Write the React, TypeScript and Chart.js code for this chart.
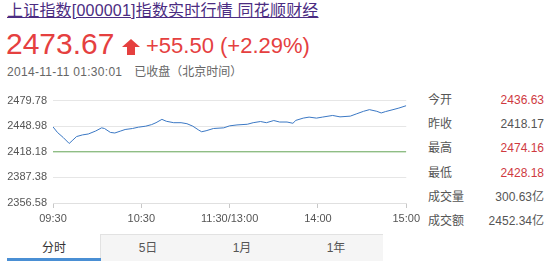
import React, { useEffect, useRef } from "react";
import { Chart, registerables } from "chart.js";

Chart.register(...registerables);

// Intraday minutes since 09:30 (lunch break collapsed, 240 = 15:00)
const minutes = [
  0, 3, 7, 11, 13, 16, 20, 24, 29, 33, 35, 39, 42, 46, 49, 54, 58, 63, 67, 70,
  74, 77, 82, 87, 91, 95, 99, 101, 104, 109, 116, 120, 125, 132, 136, 141, 145,
  150, 154, 159, 163, 165, 170, 174, 179, 183, 190, 195, 202, 206, 211, 215, 220,
  223, 226, 231, 235, 240,
];
const prices = [
  2448.2, 2441.5, 2435.3, 2428.2, 2431.5, 2436.5, 2438.5, 2439.6, 2443.2, 2447.0,
  2446.2, 2441.5, 2440.8, 2443.2, 2445.0, 2446.2, 2447.8, 2449.0, 2450.9, 2453.2,
  2457.2, 2454.9, 2453.2, 2453.2, 2452.0, 2449.0, 2444.3, 2442.3, 2443.5, 2446.2,
  2447.0, 2449.4, 2450.5, 2451.3, 2453.2, 2454.6, 2453.2, 2455.8, 2454.0, 2454.0,
  2452.5, 2456.0, 2458.7, 2459.9, 2458.7, 2459.9, 2461.9, 2460.2, 2461.1, 2463.7,
  2466.9, 2468.9, 2466.9, 2464.9, 2466.6, 2468.9, 2470.8, 2473.67,
];
const prevClose = 2418.18;
const yTicks = [2356.58, 2387.38, 2418.18, 2448.98, 2479.78];
const xTickMinutes = [0, 60, 120, 180, 240];
const xTickLabels = ["09:30", "10:30", "11:30/13:00", "14:00", "15:00"];

const statLabels = ["今开", "昨收", "最高", "最低", "成交量", "成交额"];
const statValues = ["2436.63", "2418.17", "2474.16", "2428.18", "300.63亿", "2452.34亿"];
const statRed = [true, false, true, true, false, false];
const tabLabels = ["分时", "5日", "1月", "1年"];

const FONT = '"Liberation Sans", Arial, "Noto Sans CJK SC", sans-serif';
const RED = "#e5403f";

function IntradayChart() {
  const ref = useRef<HTMLCanvasElement | null>(null);
  useEffect(() => {
    if (!ref.current) return;
    const chart = new Chart(ref.current, {
      type: "line",
      data: {
        datasets: [
          {
            data: [
              { x: 0, y: prevClose },
              { x: 240, y: prevClose },
            ],
            borderColor: "#6aab5c",
            borderWidth: 1,
            pointRadius: 0,
          },
          {
            data: minutes.map((m, i) => ({ x: m, y: prices[i] })),
            borderColor: "#3b78c4",
            borderWidth: 1,
            pointRadius: 0,
            tension: 0,
          },
        ],
      },
      options: {
        responsive: false,
        animation: false,
        plugins: { legend: { display: false }, tooltip: { enabled: false } },
        layout: { padding: { top: 10, right: 17, left: 0, bottom: 0 } },
        scales: {
          x: {
            type: "linear",
            min: 0,
            max: 240,
            afterBuildTicks: (s: any) => {
              s.ticks = xTickMinutes.map((v) => ({ value: v }));
            },
            afterFit: (s: any) => {
              s.height = 25;
            },
            ticks: {
              autoSkip: false,
              maxRotation: 0,
              color: "#555",
              padding: 4,
              font: { size: 11, family: FONT },
              callback: (v: any) => xTickLabels[xTickMinutes.indexOf(Number(v))],
            },
            grid: { drawOnChartArea: false, drawTicks: true, tickLength: 5, color: "#c8c8c8" },
            border: { display: true, color: "#e0e0e0" },
          },
          y: {
            type: "linear",
            min: yTicks[0],
            max: yTicks[yTicks.length - 1],
            afterBuildTicks: (s: any) => {
              s.ticks = yTicks.map((v) => ({ value: v }));
            },
            afterFit: (s: any) => {
              s.width = 53;
            },
            ticks: {
              color: "#555",
              padding: 6,
              font: { size: 11, family: FONT },
              callback: (v: any) => Number(v).toFixed(2),
            },
            grid: { color: "#e6e6e6", drawTicks: false },
            border: { display: false },
          },
        },
      },
    });
    return () => chart.destroy();
  }, []);
  return (
    <canvas
      ref={ref}
      width={424}
      height={140}
      style={{ position: "absolute", left: 0, top: 88, width: 424, height: 140 }}
    />
  );
}

export default function App() {
  const abs = (extra: React.CSSProperties): React.CSSProperties => ({
    position: "absolute",
    whiteSpace: "nowrap",
    fontFamily: FONT,
    ...extra,
  });
  return (
    <div
      style={{
        position: "absolute",
        left: 0,
        top: 0,
        width: 559,
        height: 268,
        background: "#fff",
        overflow: "hidden",
      }}
    >
      <div
        style={abs({
          left: 7,
          top: 1,
          fontSize: 16,
          lineHeight: "19px",
          color: "#4b2c82",
          textDecoration: "underline",
          letterSpacing: "0.2px",
        })}
      >
        上证指数[000001]指数实时行情 同花顺财经
      </div>

      <div style={abs({ left: 6, top: 27, fontSize: 30, lineHeight: "34px", color: RED })}>
        2473.67
      </div>
      <svg
        width={18}
        height={16}
        viewBox="0 0 18 16"
        style={{ position: "absolute", left: 122, top: 39 }}
      >
        <polygon points="9,0 18,8 13,8 13,16 5,16 5,8 0,8" fill={RED} />
      </svg>
      <div style={abs({ left: 146, top: 33, fontSize: 22, lineHeight: "25px", color: RED })}>
        +55.50 (+2.29%)
      </div>

      <div style={abs({ left: 7, top: 65, fontSize: 12, lineHeight: "14px", color: "#666" })}>
        <span style={{ letterSpacing: "0.3px" }}>2014-11-11 01:30:01</span>
        <span style={{ marginLeft: 12 }}>已收盘（北京时间）</span>
      </div>

      <IntradayChart />

      {statLabels.map((lab, i) => (
        <React.Fragment key={lab}>
          <div
            style={abs({
              left: 428,
              top: 93 + i * 24.2,
              fontSize: 12,
              lineHeight: "14px",
              color: "#555",
            })}
          >
            {lab}
          </div>
          <div
            style={abs({
              right: 559 - 544,
              top: 93 + i * 24.2,
              fontSize: 12,
              lineHeight: "14px",
              color: statRed[i] ? "#cf3a3f" : "#555",
              textAlign: "right",
            })}
          >
            {statValues[i]}
          </div>
        </React.Fragment>
      ))}

      <div
        style={{
          position: "absolute",
          left: 100,
          top: 234,
          width: 283,
          height: 27,
          background: "#f5f5f5",
          borderTop: "1px solid #e2e2e2",
          borderLeft: "1px solid #e2e2e2",
          boxSizing: "border-box",
        }}
      />
      <div
        style={{
          position: "absolute",
          left: 7,
          top: 258,
          width: 94,
          height: 3,
          background: "#4a8fd4",
        }}
      />
      {tabLabels.map((t, i) => (
        <div
          key={t}
          style={abs({
            left: 7 + i * 94,
            width: 94,
            top: 241,
            textAlign: "center",
            fontSize: 12,
            lineHeight: "14px",
            color: i === 0 ? "#333" : "#555",
          })}
        >
          {t}
        </div>
      ))}
    </div>
  );
}
